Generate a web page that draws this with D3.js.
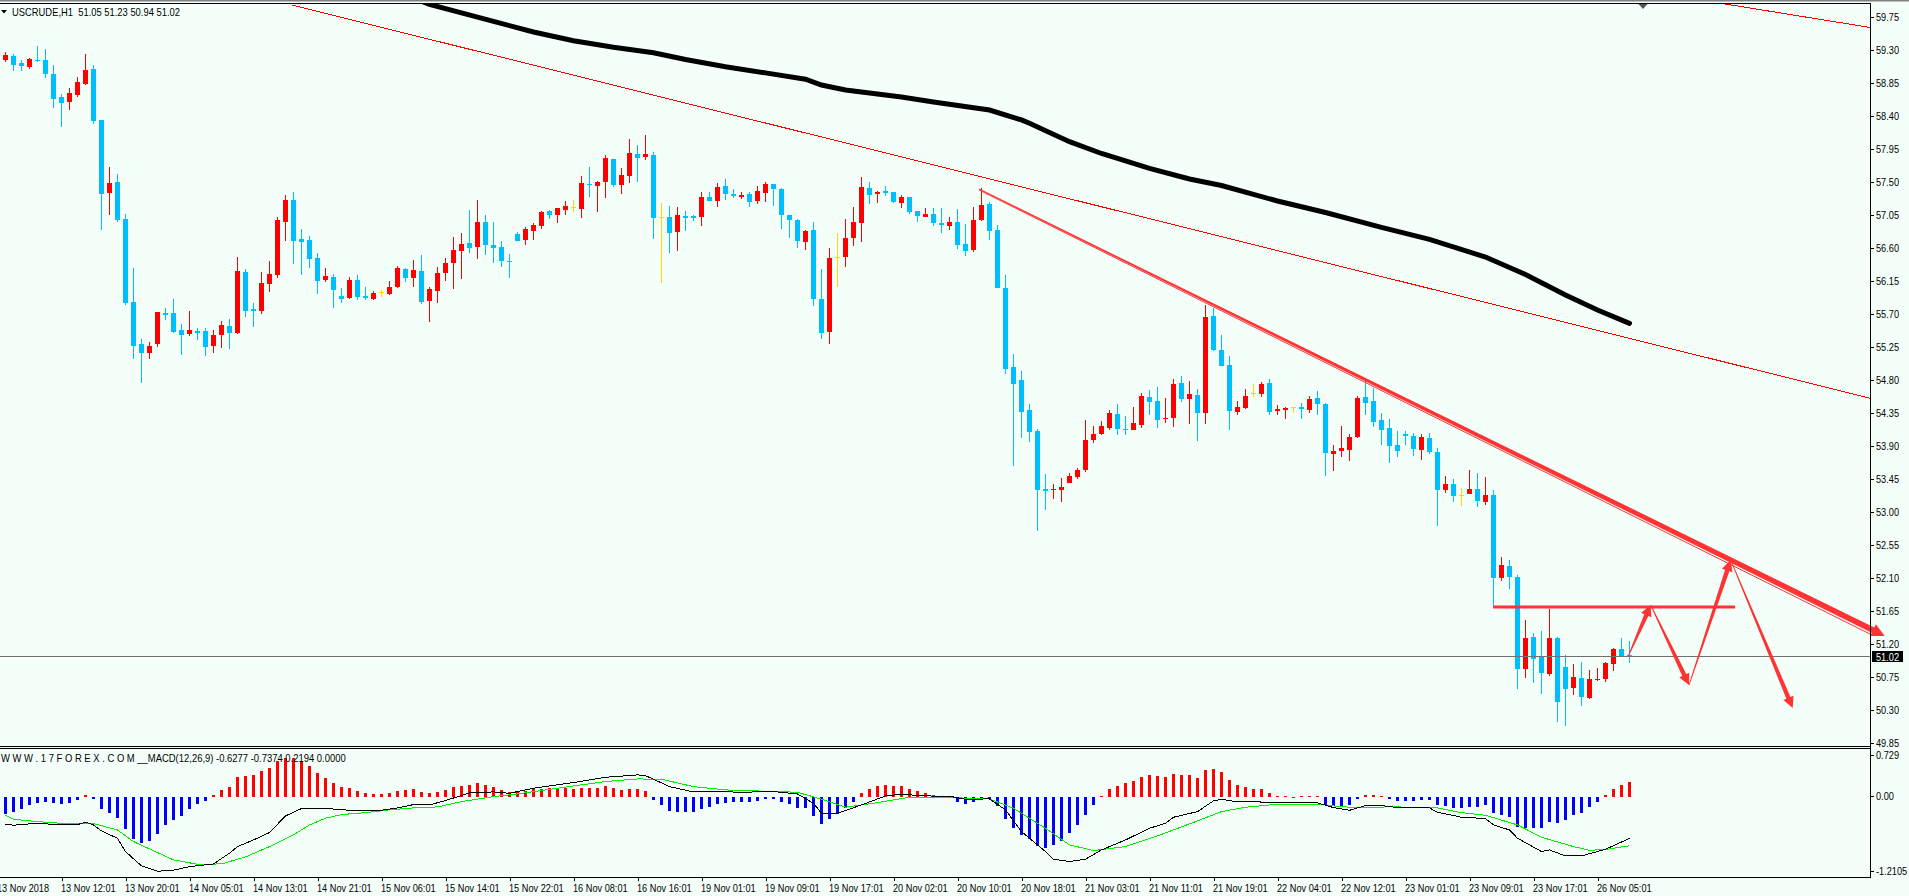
<!DOCTYPE html>
<html lang="en">
<head>
  <meta charset="UTF-8">
  <title>USCRUDE,H1</title>
  <script src="https://d3js.org/d3.v7.min.js"></script>
  <style>
    body { margin: 0; padding: 0; background: #F5FFFA; overflow: hidden; }
    svg { display: block; }
    text { font-family: 'Liberation Sans', sans-serif; font-size: 11px; fill: #000; }
    .axis path { display: none; }
    .axis line { stroke: #000; }
    .axis text { font-family: 'Liberation Sans', sans-serif; font-size: 11px; }
  </style>
</head>
<body>
  <svg id="chart" width="1909" height="896"></svg>
  <script>
    var opens = [
      59.16,59.21,59.12,59.06,59.16,59.16,58.97,58.65,58.58,58.68,
      58.83,59.03,58.34,57.34,57.49,56.99,55.86,55.28,55.16,55.28,
      55.71,55.71,55.48,55.42,55.46,55.46,55.26,55.41,55.53,55.43,
      56.27,55.76,55.73,56.10,56.23,56.95,57.25,56.72,56.70,56.46,
      56.16,56.20,55.94,55.91,56.16,55.94,55.90,55.99,55.97,56.06,
      56.31,56.18,56.28,55.87,56.01,56.25,56.39,56.55,56.66,56.61,
      56.95,56.63,56.61,56.42,56.78,56.70,56.83,56.89,57.10,57.04,
      57.11,57.15,57.13,57.47,57.44,57.49,57.81,57.45,57.58,57.88,
      57.83,57.86,57.01,57.02,56.81,57.03,57.03,57.02,57.29,57.23,
      57.44,57.33,57.29,57.33,57.23,57.34,57.47,57.40,57.04,56.97,
      56.67,56.84,55.90,55.45,56.47,56.47,56.73,56.93,57.41,57.33,
      57.37,57.36,57.21,57.29,57.10,57.02,57.06,56.93,56.89,56.95,
      56.65,56.57,56.97,57.19,56.84,56.05,54.97,54.79,54.38,54.10,
      53.31,53.29,53.29,53.39,53.47,53.57,53.98,54.06,54.14,54.33,
      54.13,54.11,54.18,54.56,54.51,54.26,54.28,54.75,54.53,54.59,
      54.34,55.67,55.20,55.00,54.36,54.41,54.61,54.60,54.75,54.37,
      54.38,54.42,54.43,54.38,54.55,54.47,53.78,53.82,53.84,54.02,
      54.56,54.51,54.25,54.14,53.91,54.06,54.03,53.84,54.00,53.81,
      53.29,53.38,53.23,53.24,53.31,53.13,53.22,52.09,52.26,52.11,
      50.85,51.29,51.02,50.78,51.27,50.88,50.59,50.73,50.46,50.70,
      50.72,50.92,51.12,51.05
    ];
    var highs = [
      59.27,59.24,59.16,59.18,59.35,59.31,59.09,58.69,58.78,58.93,
      59.24,59.09,58.34,57.70,57.60,57.06,56.32,55.35,55.31,55.72,
      55.78,55.90,55.56,55.73,55.50,55.50,55.48,55.60,55.63,56.47,
      56.31,55.84,56.27,56.42,57.02,57.32,57.36,56.85,56.76,56.53,
      56.32,56.24,56.05,56.20,56.23,56.06,56.01,56.02,56.14,56.35,
      56.32,56.43,56.50,56.06,56.33,56.46,56.74,56.80,57.11,57.25,
      57.04,56.95,56.69,56.51,56.81,56.88,56.93,57.10,57.11,57.14,
      57.23,57.25,57.58,57.70,57.51,57.86,57.81,57.68,58.08,58.00,
      58.13,57.90,57.21,57.17,57.15,57.10,57.04,57.36,57.36,57.48,
      57.53,57.40,57.36,57.36,57.44,57.49,57.47,57.41,57.04,56.99,
      56.84,56.95,56.31,56.59,56.80,56.99,57.15,57.56,57.49,57.37,
      57.44,57.36,57.32,57.29,57.10,57.14,57.14,57.14,57.02,57.13,
      56.92,57.15,57.41,57.22,56.91,56.22,55.15,54.92,54.47,54.13,
      53.51,53.38,53.46,53.53,53.59,54.25,54.17,54.23,54.38,54.47,
      54.30,54.43,54.62,54.66,54.70,54.55,54.81,54.85,54.78,54.67,
      55.82,55.78,55.41,55.12,54.51,54.67,54.74,54.77,54.81,54.45,
      54.43,54.43,54.48,54.58,54.64,54.48,53.91,54.17,54.06,54.58,
      54.78,54.68,54.34,54.26,54.10,54.10,54.07,54.06,54.07,53.87,
      53.48,53.44,53.32,53.57,53.53,53.47,53.29,52.38,52.34,52.13,
      51.52,51.34,51.37,51.67,51.29,51.04,50.92,50.95,50.84,50.87,
      50.95,51.14,51.27,51.23
    ];
    var lows = [
      59.13,59.01,59.01,59.04,59.13,58.91,58.50,58.24,58.48,58.65,
      58.82,58.28,56.84,57.04,56.95,55.82,55.08,54.75,55.08,55.24,
      55.61,55.43,55.13,55.39,55.34,55.12,55.16,55.23,55.22,55.42,
      55.65,55.52,55.69,55.99,56.18,56.69,56.38,56.23,56.32,55.97,
      56.13,55.78,55.84,55.90,55.88,55.88,55.88,55.93,55.95,56.05,
      56.13,56.06,55.83,55.58,55.84,56.14,56.03,56.17,56.53,56.44,
      56.50,56.39,56.33,56.18,56.69,56.63,56.70,56.85,56.99,56.93,
      57.04,57.08,57.00,57.29,57.08,57.28,57.43,57.33,57.48,57.49,
      57.79,56.72,56.12,56.53,56.55,56.83,56.96,56.89,57.23,57.15,
      57.25,57.28,57.26,57.15,57.19,57.22,57.17,56.85,56.73,56.59,
      56.57,55.80,55.35,55.28,56.06,56.33,56.62,56.67,57.19,57.21,
      57.30,57.21,57.14,57.06,56.95,57.02,56.89,56.80,56.84,56.58,
      56.48,56.54,56.96,56.70,56.05,54.88,53.62,54.00,53.95,52.73,
      53.02,53.17,53.13,53.39,53.44,53.54,53.93,54.04,54.11,54.04,
      54.04,54.11,54.14,54.32,54.14,54.21,54.15,54.49,54.19,53.96,
      54.19,55.19,54.98,54.11,54.32,54.40,54.56,54.56,54.32,54.32,
      54.26,54.34,54.26,54.34,54.32,53.48,53.55,53.74,53.69,54.00,
      54.32,54.15,53.91,53.66,53.74,53.91,53.76,53.70,53.78,52.80,
      53.25,53.13,53.08,53.24,53.06,53.09,51.71,52.05,51.94,50.58,
      50.73,50.66,50.51,50.76,50.13,50.07,50.50,50.35,50.44,50.69,
      50.67,50.82,51.02,50.94
    ];
    var closes = [
      59.23,59.09,59.08,59.17,59.14,58.97,58.63,58.57,58.71,58.86,
      59.02,58.33,57.33,57.48,56.98,55.84,55.26,55.16,55.26,55.72,
      55.68,55.45,55.41,55.48,55.43,55.24,55.41,55.54,55.43,56.28,
      55.73,55.73,56.12,56.24,56.98,57.25,56.69,56.68,56.44,56.14,
      56.21,56.02,55.90,56.16,55.93,55.91,55.98,55.99,56.06,56.32,
      56.18,56.29,55.86,56.03,56.25,56.39,56.57,56.65,56.59,56.95,
      56.63,56.59,56.42,56.40,56.69,56.85,56.91,57.08,57.04,57.14,
      57.17,57.15,57.48,57.45,57.49,57.82,57.45,57.59,57.89,57.82,
      57.88,57.00,57.01,56.80,57.04,57.00,57.00,57.29,57.23,57.43,
      57.33,57.30,57.32,57.22,57.37,57.47,57.40,57.04,56.97,56.69,
      56.83,55.90,55.43,56.46,56.47,56.73,56.95,57.43,57.32,57.36,
      57.34,57.22,57.29,57.08,57.03,57.06,56.93,56.91,56.95,56.63,
      56.55,56.97,57.18,56.83,56.05,54.94,54.74,54.36,54.08,53.29,
      53.28,53.31,53.33,53.48,53.57,53.98,54.06,54.17,54.34,54.13,
      54.11,54.21,54.58,54.49,54.25,54.28,54.74,54.53,54.60,54.34,
      55.65,55.20,54.98,54.37,54.43,54.58,54.61,54.74,54.36,54.40,
      54.41,54.42,54.40,54.53,54.47,53.80,53.82,53.87,54.02,54.55,
      54.48,54.22,54.11,53.89,53.82,54.03,53.85,54.02,53.81,53.29,
      53.38,53.21,53.23,53.31,53.14,53.22,52.09,52.27,52.11,50.85,
      51.27,50.99,50.80,51.27,50.40,50.58,50.74,50.47,50.72,50.72,
      50.93,51.12,51.03,51.02
    ];

    var maBars = [51,53,57,61,66,71,76,81,85,90,95,100,102,105,112,116,123,127,128,133,137,143,148,152,159,165,172,178,185,190,195,199,203];
    var maPrices = [60.0,59.915,59.80,59.683,59.539,59.42,59.331,59.256,59.164,59.065,58.981,58.895,58.816,58.748,58.652,58.584,58.475,58.339,58.294,58.043,57.882,57.68,57.534,57.445,57.234,57.077,56.875,56.712,56.47,56.232,55.952,55.747,55.566];

    var macdHist = [
      -.257,-.22,-.18,-.12,-.085,-.075,-.085,-.10,-.09,-.045,
      .03,-.03,-.18,-.24,-.32,-.48,-.635,-.695,-.665,-.56,
      -.43,-.35,-.29,-.18,-.105,-.06,.03,.105,.15,.30,
      .32,.33,.39,.44,.545,.59,.59,.545,.47,.36,
      .29,.21,.15,.135,.09,.06,.045,.045,.06,.09,
      .105,.12,.075,.065,.075,.105,.15,.165,.18,.21,
      .18,.15,.105,.075,.075,.09,.12,.12,.135,.135,
      .135,.12,.135,.135,.135,.165,.135,.105,.12,.12,
      .09,-.045,-.12,-.21,-.225,-.225,-.225,-.18,-.15,-.105,
      -.09,-.075,-.075,-.075,-.06,-.03,-.03,-.075,-.105,-.165,
      -.165,-.29,-.41,-.33,-.255,-.165,-.075,.06,.12,.165,
      .18,.165,.165,.12,.09,.06,.03,.015,-.015,-.075,
      -.105,-.075,-.03,-.03,-.135,-.33,-.47,-.575,-.635,-.74,
      -.77,-.725,-.665,-.545,-.42,-.27,-.12,.01,.12,.165,
      .21,.24,.30,.33,.32,.30,.35,.33,.33,.29,
      .41,.42,.38,.26,.18,.15,.12,.12,.06,.02,
      .01,.005,.01,.01,.015,-.12,-.135,-.135,-.12,-.03,
      .025,.03,.02,-.03,-.06,-.055,-.055,-.045,-.04,-.12,
      -.135,-.165,-.165,-.15,-.15,-.12,-.24,-.27,-.30,-.45,
      -.47,-.47,-.47,-.38,-.39,-.35,-.27,-.24,-.15,-.075,
      .03,.12,.18,.2194
    ];
    var macdBars = [0,1,4,7,9,10,11,12,14,15,17,19,21,23,26,28,29,31,33,35,37,40,42,44,47,49,51,53,55,58,61,63,66,71,75,79,80,83,86,89,92,96,99,101,102,104,107,110,112,115,118,120,123,125,127,130,131,133,135,137,140,143,145,146,149,151,152,154,156,159,164,166,168,170,172,174,178,179,182,185,186,188,189,192,193,195,197,200,203];
    var macdLine = [-.413,-.428,-.398,-.423,-.418,-.383,-.423,-.514,-.625,-.826,-1.043,-1.123,-1.108,-1.053,-1.013,-.851,-.751,-.650,-.539,-.287,-.176,-.171,-.196,-.202,-.202,-.166,-.116,-.121,-.055,.060,.076,.055,.131,.217,.297,.333,.322,.156,.076,.081,.071,.081,.045,-.096,-.247,-.247,-.121,.015,.040,.015,.010,-.035,-.030,-.196,-.524,-.826,-.942,-.977,-.942,-.801,-.650,-.474,-.398,-.307,-.222,-.060,-.035,-.076,-.071,-.091,-.091,-.161,-.202,-.131,-.131,-.161,-.166,-.232,-.307,-.327,-.423,-.499,-.625,-.826,-.801,-.892,-.892,-.791,-.6277];
    var signalBars = [0,1,4,8,11,14,16,19,21,24,27,30,33,36,38,40,42,45,48,51,54,57,61,64,67,71,75,79,82,86,90,95,99,102,105,109,113,118,123,126,130,133,136,140,144,148,152,155,159,164,166,168,174,179,182,185,189,192,196,198,200,203];
    var signalLine = [-.277,-.338,-.373,-.408,-.403,-.499,-.675,-.841,-.952,-1.018,-1.013,-.907,-.751,-.574,-.423,-.322,-.267,-.237,-.196,-.166,-.151,-.071,.005,.045,.096,.166,.232,.272,.267,.156,.106,.086,.071,-.035,-.156,-.086,-.005,-.010,-.030,-.171,-.474,-.725,-.811,-.751,-.589,-.408,-.222,-.156,-.111,-.111,-.136,-.156,-.151,-.166,-.237,-.277,-.423,-.610,-.751,-.806,-.796,-.7374];

    var priceTicks = [59.75,59.30,58.85,58.40,57.95,57.50,57.05,56.60,56.15,55.70,55.25,54.80,54.35,53.90,53.45,53.00,52.55,52.10,51.65,51.20,50.75,50.30,49.85];
    var macdTicks = [0.729, 0, -1.2105];
    var macdTickLabels = ['0.729', '0.00', '-1.2105'];
    var timeBars = [-1,7,15,23,31,39,47,55,63,71,79,87,95,103,111,119,127,135,143,151,159,167,175,183,191,199];
    var timeLabels = ['13 Nov 2018','13 Nov 12:01','13 Nov 20:01','14 Nov 05:01','14 Nov 13:01','14 Nov 21:01','15 Nov 06:01','15 Nov 14:01','15 Nov 22:01','16 Nov 08:01','16 Nov 16:01','19 Nov 01:01','19 Nov 09:01','19 Nov 17:01','20 Nov 02:01','20 Nov 10:01','20 Nov 18:01','21 Nov 03:01','21 Nov 11:01','21 Nov 19:01','22 Nov 04:01','22 Nov 12:01','23 Nov 01:01','23 Nov 09:01','23 Nov 17:01','26 Nov 05:01'];

    // hand drawn objects on the chart, in bars and prices
    var channelBars = [[35.8, 233.1], [214.2, 233.1]];
    var channelPrices = [[59.907, 54.543], [59.934, 59.60]];
    var bigArrowBars = [121.7, 234.9];
    var bigArrowPrices = [57.384, 51.29];
    var supportBars = [185.94, 216.2];
    var supportPrice = 51.697;
    var pathBars = [202.8, 205.65, 210.44, 215.65, 223.4];
    var pathPrices = [51.016, 51.725, 50.634, 52.338, 50.32];
    var lastPrice = 51.02;

    var windowRight = 1870;
    var svg = d3.select('#chart');

    var x = d3.scaleLinear().domain([0, 203]).range([5.5, 1629.5]);
    var y = d3.scaleLinear().domain([59.75, 49.85]).range([16.5, 742.5]);
    var yMacd = d3.scaleLinear().domain([0.729, -1.2105]).range([748.7, 877]);

    // the terminal font is narrower than anything installed, so squeeze the text
    function narrow(sel, k) {
      sel.each(function() {
        this.setAttribute('textLength', this.getComputedTextLength() * k);
        this.setAttribute('lengthAdjust', 'spacingAndGlyphs');
      });
    }

    svg.append('defs').append('clipPath').attr('id', 'mainClip').append('rect')
      .attr('x', 0).attr('y', 3.5).attr('width', windowRight).attr('height', 742);

    var candleColor = function(i) {
      if (closes[i] > opens[i]) return '#FF0000';
      if (closes[i] < opens[i]) return '#00BFFF';
      return '#FFD700';
    };

    // candles
    var candles = svg.append('g').selectAll('g')
      .data(d3.range(opens.length)).enter().append('g')
      .attr('shape-rendering', 'crispEdges');
    candles.append('rect')
      .attr('x', function(i) {return Math.floor(x(i))})
      .attr('width', 1)
      .attr('y', function(i) {return Math.round(y(highs[i]))})
      .attr('height', function(i) {return Math.max(1, Math.round(y(lows[i])) - Math.round(y(highs[i])))})
      .attr('fill', candleColor);
    candles.append('rect')
      .attr('x', function(i) {return Math.floor(x(i)) - 2})
      .attr('width', 5)
      .attr('y', function(i) {return Math.round(y(Math.max(opens[i], closes[i])))})
      .attr('height', function(i) {
        return Math.max(1, Math.round(y(Math.min(opens[i], closes[i]))) - Math.round(y(Math.max(opens[i], closes[i]))));
      })
      .attr('fill', candleColor);

    var objects = svg.append('g').attr('clip-path', 'url(#mainClip)');

    // last price line
    objects.append('line')
      .attr('x1', 0).attr('x2', windowRight)
      .attr('y1', Math.floor(y(lastPrice)) + 0.5).attr('y2', Math.floor(y(lastPrice)) + 0.5)
      .attr('stroke', '#707070').attr('stroke-width', 1);

    channelBars.forEach(function(bars, k) {
      objects.append('line')
        .attr('x1', x(bars[0])).attr('y1', y(channelPrices[k][0]))
        .attr('x2', x(bars[1])).attr('y2', y(channelPrices[k][1]))
        .attr('stroke', '#FF0000').attr('stroke-width', 1)
        .attr('shape-rendering', 'crispEdges');
    });

    var maGen = d3.line().x(function(d) {return x(d)}).y(function(d, i) {return y(maPrices[i])});
    objects.append('path')
      .attr('d', maGen(maBars))
      .attr('fill', 'none').attr('stroke', '#000').attr('stroke-width', 5).attr('stroke-linecap', 'round');

    // tapered arrow: a thin tail that widens to the head
    function arrowPath(x0, y0, x1, y1, tail, shaft, headLen, headWidth) {
      var len = Math.hypot(x1 - x0, y1 - y0);
      var ux = (x1 - x0) / len, uy = (y1 - y0) / len;
      var nx = -uy, ny = ux;
      var bx = x1 - ux * headLen, by = y1 - uy * headLen;
      var pts = [
        [x0 + nx * tail / 2, y0 + ny * tail / 2],
        [bx + nx * shaft / 2, by + ny * shaft / 2],
        [bx + nx * headWidth / 2, by + ny * headWidth / 2],
        [x1, y1],
        [bx - nx * headWidth / 2, by - ny * headWidth / 2],
        [bx - nx * shaft / 2, by - ny * shaft / 2],
        [x0 - nx * tail / 2, y0 - ny * tail / 2]
      ];
      return 'M' + pts.join('L') + 'Z';
    }

    var arrowColor = '#FF3333';
    var annotations = svg.append('g');

    // main falling trend arrow, with its thin companion just under it
    annotations.append('line')
      .attr('x1', x(bigArrowBars[0])).attr('y1', y(bigArrowPrices[0]))
      .attr('x2', x(bigArrowBars[1]) - 12).attr('y2', y(bigArrowPrices[1]) - 1.5)
      .attr('stroke', arrowColor).attr('stroke-width', 1);
    annotations.append('path')
      .attr('d', arrowPath(x(bigArrowBars[0]), y(bigArrowPrices[0]) - 1, x(bigArrowBars[1]), y(bigArrowPrices[1]) - 1, 1, 6, 13, 13))
      .attr('fill', arrowColor);

    annotations.append('line')
      .attr('x1', x(supportBars[0])).attr('x2', x(supportBars[1]))
      .attr('y1', y(supportPrice)).attr('y2', y(supportPrice))
      .attr('stroke', arrowColor).attr('stroke-width', 3);

    d3.range(pathBars.length - 1).forEach(function(k) {
      annotations.append('path')
        .attr('d', arrowPath(x(pathBars[k]), y(pathPrices[k]), x(pathBars[k + 1]), y(pathPrices[k + 1]), 0.8, 4.5, 11, 11))
        .attr('fill', arrowColor);
    });

    // macd window
    var macdG = svg.append('g').attr('shape-rendering', 'crispEdges');
    macdG.selectAll('rect').data(macdHist).enter().append('rect')
      .attr('x', function(d, i) {return Math.floor(x(i)) - 1})
      .attr('width', 3)
      .attr('y', function(d) {return Math.round(yMacd(Math.max(d, 0)))})
      .attr('height', function(d) {return Math.max(1, Math.round(Math.abs(yMacd(d) - yMacd(0))))})
      .attr('fill', function(d) {return d > 0 ? '#FF0000' : '#0000FF'});

    var macdGen = d3.line().x(function(d) {return x(d)}).y(function(d, i) {return yMacd(macdLine[i])});
    var signalGen = d3.line().x(function(d) {return x(d)}).y(function(d, i) {return yMacd(signalLine[i])});
    svg.append('path').attr('d', signalGen(signalBars))
      .attr('fill', 'none').attr('stroke', '#00EE00').attr('stroke-width', 1).attr('shape-rendering', 'crispEdges');
    svg.append('path').attr('d', macdGen(macdBars))
      .attr('fill', 'none').attr('stroke', '#000').attr('stroke-width', 1).attr('shape-rendering', 'crispEdges');

    // window frames
    var frame = svg.append('g').attr('stroke', '#000').attr('shape-rendering', 'crispEdges');
    svg.insert('rect', ':first-child').attr('x', 0).attr('y', 0).attr('width', 1909).attr('height', 1.5).attr('fill', '#808080');
    frame.append('line').attr('x1', 0).attr('x2', windowRight + 1).attr('y1', 3.5).attr('y2', 3.5);
    frame.append('line').attr('x1', 0).attr('x2', windowRight + 1).attr('y1', 746.5).attr('y2', 746.5);
    frame.append('line').attr('x1', 0).attr('x2', windowRight + 1).attr('y1', 748.5).attr('y2', 748.5);
    frame.append('line').attr('x1', 0).attr('x2', windowRight + 1).attr('y1', 877.5).attr('y2', 877.5);
    frame.append('line').attr('x1', windowRight + 0.5).attr('x2', windowRight + 0.5).attr('y1', 3).attr('y2', 878);

    // chart-shift marker on the top edge
    svg.append('path').attr('d', d3.line()([[1638.5, 4], [1647.5, 4], [1643, 9]])).attr('fill', '#555');

    // axes
    var priceAxis = d3.axisRight(y).tickValues(priceTicks).tickSize(3).tickPadding(2)
      .tickFormat(d3.format('.2f'));
    var priceAxisG = svg.append('g').attr('class', 'axis').attr('transform', 'translate(' + (windowRight + 1) + ',0)')
      .attr('shape-rendering', 'crispEdges').call(priceAxis);
    narrow(priceAxisG.selectAll('text'), 0.835);

    var macdAxis = d3.axisRight(yMacd).tickValues(macdTicks).tickSize(3).tickPadding(2)
      .tickFormat(function(d, i) {return macdTickLabels[i]});
    var macdAxisG = svg.append('g').attr('class', 'axis').attr('transform', 'translate(' + (windowRight + 1) + ',0)')
      .attr('shape-rendering', 'crispEdges').call(macdAxis);
    narrow(macdAxisG.selectAll('text'), 0.835);
    // the terminal pulls its top and bottom labels inside the window
    macdAxisG.selectAll('.tick').attr('transform', function(d, i) {
      var shift = i === 0 ? 7 : (i === 2 ? -6 : 0);
      return 'translate(0,' + (yMacd(d) + shift) + ')';
    });

    var timeAxis = d3.axisBottom(x).tickValues(timeBars).tickSize(3).tickPadding(3)
      .tickFormat(function(d, i) {return timeLabels[i]});
    var timeAxisG = svg.append('g').attr('class', 'axis').attr('transform', 'translate(0,878)')
      .attr('shape-rendering', 'crispEdges').call(timeAxis);
    timeAxisG.selectAll('text').attr('text-anchor', 'start').attr('x', -1);
    narrow(timeAxisG.selectAll('text'), 0.835);

    // last price tag
    svg.append('rect').attr('x', windowRight + 2).attr('y', Math.floor(y(lastPrice)) - 5).attr('width', 31).attr('height', 11).attr('fill', '#000');
    narrow(svg.append('text').attr('x', windowRight + 6).attr('y', y(lastPrice) + 4).style('fill', '#fff').text(lastPrice.toFixed(2)), 0.835);

    // window captions
    svg.append('path').attr('d', d3.line()([[1, 10], [7, 10], [4, 13.5]])).attr('fill', '#000');
    narrow(svg.append('text').attr('x', 12).attr('y', 15.5).attr('xml:space', 'preserve')
      .text('USCRUDE,H1  51.05 51.23 50.94 51.02'), 0.853);
    narrow(svg.append('text').attr('x', 1).attr('y', 761.5).attr('xml:space', 'preserve')
      .text('W W W . 1 7 F O R E X . C O M __MACD(12,26,9) -0.6277 -0.7374 0.2194 0.0000'), 0.858);
  </script>
</body>
</html>
